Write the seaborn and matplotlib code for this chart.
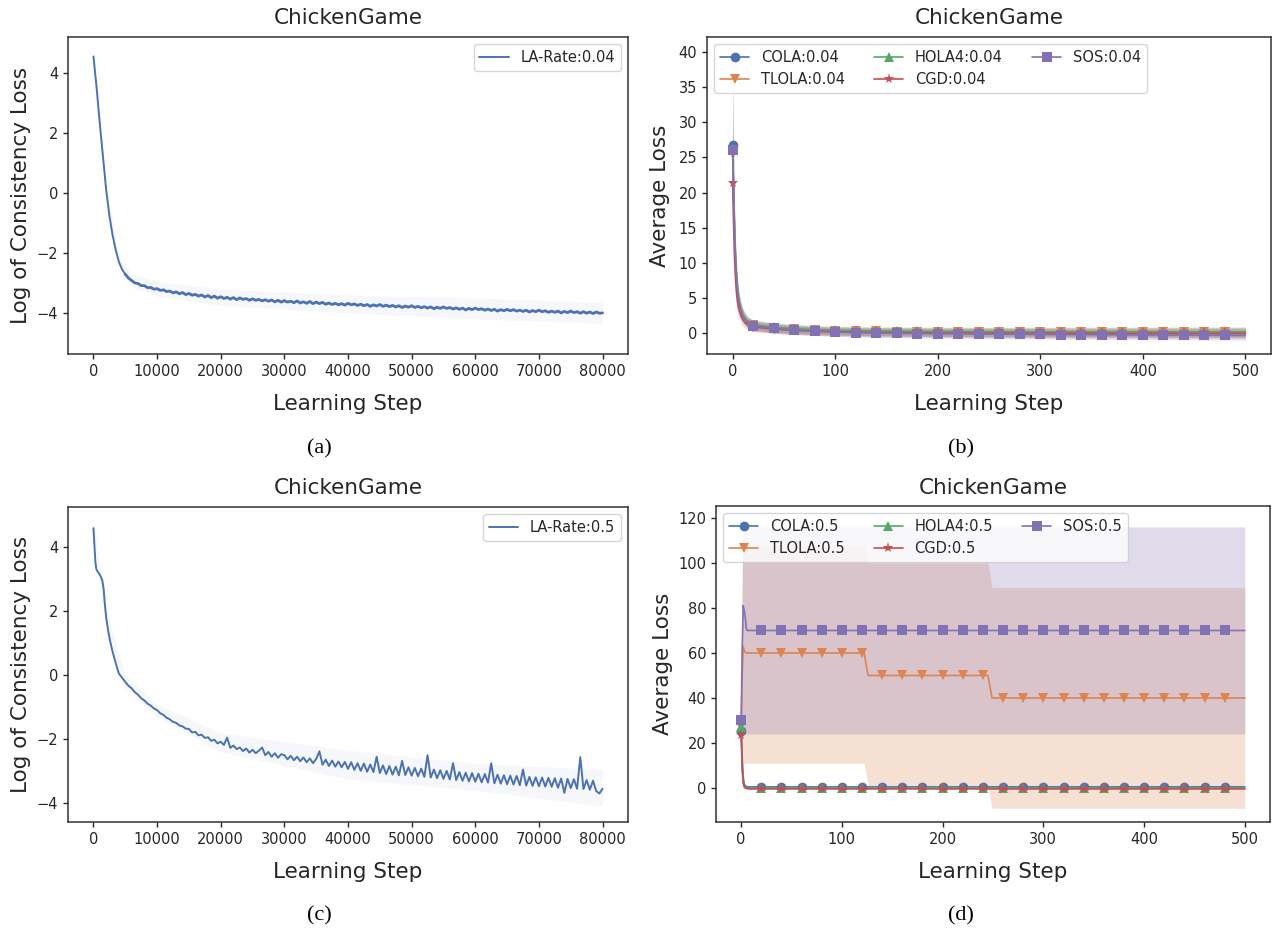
import matplotlib
matplotlib.use("Agg")
import matplotlib.pyplot as plt
import seaborn as sns

# ---------------- Panel (a): LA-Rate 0.04 ----------------
a_steps = [0, 500, 1000, 1500, 2000, 2500, 3000, 3500, 4000, 4500] + list(range(5000, 80001, 500))
a_vals = [4.55, 3.50, 2.30, 1.20, 0.10, -0.75, -1.40, -1.90, -2.30, -2.55,
          -2.71, -2.84, -2.92, -3.00, -3.02, -3.09, -3.09, -3.16, -3.15, -3.21,
          -3.19, -3.25, -3.23, -3.29, -3.27, -3.33, -3.30, -3.36, -3.32, -3.39,
          -3.35, -3.41, -3.38, -3.44, -3.40, -3.47, -3.42, -3.49, -3.44, -3.51,
          -3.46, -3.52, -3.48, -3.54, -3.49, -3.56, -3.50, -3.55, -3.52, -3.58,
          -3.53, -3.58, -3.55, -3.60, -3.56, -3.61, -3.57, -3.63, -3.58, -3.64,
          -3.59, -3.64, -3.61, -3.66, -3.60, -3.67, -3.63, -3.68, -3.62, -3.69,
          -3.64, -3.69, -3.65, -3.71, -3.67, -3.72, -3.68, -3.73, -3.69, -3.74,
          -3.68, -3.73, -3.70, -3.75, -3.71, -3.76, -3.72, -3.78, -3.73, -3.77,
          -3.72, -3.78, -3.74, -3.79, -3.75, -3.80, -3.76, -3.82, -3.77, -3.81,
          -3.76, -3.82, -3.78, -3.83, -3.79, -3.84, -3.80, -3.86, -3.81, -3.85,
          -3.80, -3.85, -3.82, -3.87, -3.83, -3.88, -3.84, -3.90, -3.85, -3.89,
          -3.84, -3.89, -3.86, -3.91, -3.87, -3.92, -3.88, -3.94, -3.89, -3.93,
          -3.88, -3.93, -3.89, -3.94, -3.91, -3.95, -3.91, -3.97, -3.92, -3.96,
          -3.91, -3.96, -3.93, -3.98, -3.94, -3.98, -3.94, -4.00, -3.95, -3.99,
          -3.94, -3.99, -3.96, -4.01, -3.96, -4.01, -3.97, -4.02, -3.97, -4.01,
          -4.00]
a_band_steps = [0, 2000, 4000, 6000, 10000, 20000, 40000, 60000, 80000]
a_band_lo = [4.40, -0.05, -2.45, -3.15, -3.45, -3.75, -4.00, -4.20, -4.35]
a_band_hi = [4.72, 0.25, -2.15, -2.70, -2.95, -3.20, -3.40, -3.50, -3.65]

# ---------------- Panel (c): LA-Rate 0.5 ----------------
c_steps = [0, 150, 300, 450, 600, 800, 1000, 1200, 1400, 1600, 1800, 2000, 2300,
           2600, 3000, 3500, 4000, 4500] + list(range(5000, 80001, 500))
c_vals = [4.60, 4.05, 3.55, 3.32, 3.26, 3.20, 3.14, 3.06, 2.95, 2.70, 2.20, 1.80, 1.40,
          1.08, 0.74, 0.38, 0.05, -0.08,
          -0.21, -0.33, -0.41, -0.53, -0.61, -0.72, -0.79, -0.89, -0.95, -1.04,
          -1.09, -1.19, -1.24, -1.33, -1.38, -1.46, -1.49, -1.57, -1.60, -1.67,
          -1.68, -1.79, -1.77, -1.88, -1.86, -1.96, -1.94, -2.05, -2.02, -2.13,
          -2.08, -2.18, -1.95, -2.27, -2.20, -2.31, -2.26, -2.37, -2.29, -2.42,
          -2.33, -2.44, -2.36, -2.26, -2.50, -2.40, -2.55, -2.44, -2.58, -2.47,
          -2.50, -2.63, -2.52, -2.66, -2.55, -2.69, -2.57, -2.72, -2.60, -2.75,
          -2.62, -2.38, -2.80, -2.64, -2.84, -2.67, -2.86, -2.70, -2.88, -2.71,
          -2.93, -2.72, -2.96, -2.75, -2.99, -2.76, -3.02, -2.79, -3.03, -2.55,
          -3.06, -2.82, -3.09, -2.84, -3.11, -2.86, -3.13, -2.68, -3.12, -2.88,
          -3.14, -2.90, -3.16, -2.92, -3.18, -2.50, -3.20, -2.95, -3.22, -2.97,
          -3.24, -2.99, -3.26, -2.75, -3.28, -3.03, -3.30, -3.05, -3.32, -3.06,
          -3.33, -3.08, -3.35, -3.09, -3.36, -2.75, -3.38, -3.11, -3.39, -3.13,
          -3.41, -3.14, -3.42, -3.15, -3.44, -2.95, -3.45, -3.18, -3.46, -3.19,
          -3.47, -3.20, -3.48, -3.21, -3.49, -3.22, -3.52, -3.23, -3.68, -3.24,
          -3.53, -3.25, -3.55, -2.56, -3.56, -3.28, -3.58, -3.30, -3.62, -3.70,
          -3.55]
c_band_steps = [0, 2000, 5000, 10000, 20000, 40000, 60000, 80000]
c_band_lo = [4.40, 1.55, -0.40, -1.30, -2.40, -3.25, -3.60, -4.10]
c_band_hi = [4.81, 2.05, 0.00, -0.90, -1.80, -2.35, -2.75, -2.95]

# ---------------- Panel (b): methods, rate 0.04 ----------------
methods = ["COLA", "TLOLA", "HOLA4", "CGD", "SOS"]
b_steps = [0, 1, 2, 3, 4, 5, 6, 8, 10, 12, 15] + list(range(20, 501, 20))
b_cola = [26.7, 19.5, 13.5, 9.8, 7.4, 5.8, 4.6, 3.3, 2.5, 2.0, 1.5,
          1.10, 0.75, 0.55, 0.40, 0.32, 0.26, 0.22, 0.19, 0.17, 0.15, 0.14, 0.13, 0.12,
          0.11, 0.10, 0.10, 0.09, 0.09, 0.08, 0.08, 0.08, 0.07, 0.07, 0.07, 0.07]
b_tlola = [25.5, 19.0, 13.2, 9.6, 7.3, 5.7, 4.6, 3.3, 2.5, 2.0, 1.55,
           1.15, 0.80, 0.60, 0.45, 0.37, 0.31, 0.27, 0.24, 0.22, 0.20, 0.19, 0.18, 0.18,
           0.17, 0.17, 0.16, 0.16, 0.16, 0.15, 0.15, 0.15, 0.15, 0.15, 0.15, 0.15]
b_hola4 = [26.2, 19.8, 14.0, 10.2, 7.8, 6.1, 4.9, 3.5, 2.7, 2.15, 1.6,
           1.20, 0.85, 0.65, 0.50, 0.42, 0.36, 0.32, 0.29, 0.27, 0.26, 0.25, 0.24, 0.24,
           0.23, 0.23, 0.23, 0.22, 0.22, 0.22, 0.22, 0.22, 0.22, 0.22, 0.22, 0.22]
b_cgd = [21.3, 15.0, 10.2, 7.2, 5.4, 4.2, 3.4, 2.5, 1.9, 1.55, 1.2,
         0.90, 0.60, 0.42, 0.30, 0.22, 0.16, 0.12, 0.09, 0.07, 0.05, 0.04, 0.03, 0.02,
         0.02, 0.01, 0.01, 0.00, 0.00, 0.00, 0.00, -0.01, -0.01, -0.01, -0.01, -0.01]
b_sos = [26.1, 19.3, 13.4, 9.7, 7.3, 5.7, 4.6, 3.3, 2.5, 2.0, 1.5,
         1.05, 0.70, 0.45, 0.28, 0.18, 0.10, 0.04, 0.00, -0.03, -0.06, -0.08, -0.10, -0.12,
         -0.14, -0.16, -0.18, -0.19, -0.20, -0.22, -0.23, -0.24, -0.25, -0.26, -0.27, -0.28]
b_half = [8.0, 5.5, 3.5, 2.4, 1.8, 1.4, 1.2, 1.0, 0.9, 0.8, 0.75,
          0.70, 0.65, 0.62, 0.60, 0.60, 0.60, 0.61, 0.61, 0.62, 0.62, 0.63, 0.63, 0.64,
          0.64, 0.65, 0.65, 0.66, 0.66, 0.67, 0.67, 0.68, 0.68, 0.69, 0.69, 0.70]
b_sos_half = [14.0, 8.0, 4.5, 2.8, 2.0, 1.6, 1.3, 1.1, 0.95, 0.85, 0.78,
              0.70, 0.65, 0.62, 0.60, 0.60, 0.60, 0.61, 0.61, 0.62, 0.62, 0.63, 0.63, 0.64,
              0.64, 0.65, 0.65, 0.66, 0.66, 0.67, 0.67, 0.68, 0.68, 0.69, 0.69, 0.70]

# ---------------- Panel (d): methods, rate 0.5 ----------------
d_steps = [0, 1, 2, 3, 4, 5, 6, 8, 10,
           20, 40, 60, 80, 100, 120, 122, 126,
           140, 160, 180, 200, 220, 240, 245, 249,
           260, 280, 300, 320, 340, 360, 380, 400, 420, 440, 460, 480, 500]
d_cola = [25.5, 14.0, 5.0, 2.0, 1.0, 0.7, 0.6, 0.5, 0.5,
          0.5, 0.5, 0.5, 0.5, 0.5, 0.5, 0.5, 0.5,
          0.5, 0.5, 0.5, 0.5, 0.5, 0.5, 0.5, 0.5,
          0.5, 0.5, 0.5, 0.5, 0.5, 0.5, 0.5, 0.5, 0.5, 0.5, 0.5, 0.5, 0.5]
d_tlola = [27.0, 50.0, 63.0, 61.0, 60.3, 60.0, 60.0, 60.0, 60.0,
           60.0, 60.0, 60.0, 60.0, 60.0, 60.0, 60.0, 50.0,
           50.0, 50.0, 50.0, 50.0, 50.0, 50.0, 50.0, 40.0,
           40.0, 40.0, 40.0, 40.0, 40.0, 40.0, 40.0, 40.0, 40.0, 40.0, 40.0, 40.0, 40.0]
d_hola4 = [27.0, 10.0, 3.0, 1.0, 0.5, 0.3, 0.2, 0.1, 0.1,
           0.0, 0.0, 0.0, 0.0, 0.0, 0.0, 0.0, 0.0,
           0.0, 0.0, 0.0, 0.0, 0.0, 0.0, 0.0, 0.0,
           0.0, 0.0, 0.0, 0.0, 0.0, 0.0, 0.0, 0.0, 0.0, 0.0, 0.0, 0.0, 0.0]
d_cgd = [23.5, 8.0, 2.0, 0.5, 0.0, -0.2, -0.3, -0.4, -0.4,
         -0.4, -0.4, -0.4, -0.4, -0.4, -0.4, -0.4, -0.4,
         -0.4, -0.4, -0.4, -0.4, -0.4, -0.4, -0.4, -0.4,
         -0.4, -0.4, -0.4, -0.4, -0.4, -0.4, -0.4, -0.4, -0.4, -0.4, -0.4, -0.4, -0.4]
d_sos = [30.0, 62.0, 81.0, 79.0, 76.0, 71.0, 70.0, 70.0, 70.0,
         70.0, 70.0, 70.0, 70.0, 70.0, 70.0, 70.0, 70.0,
         70.0, 70.0, 70.0, 70.0, 70.0, 70.0, 70.0, 70.0,
         70.0, 70.0, 70.0, 70.0, 70.0, 70.0, 70.0, 70.0, 70.0, 70.0, 70.0, 70.0, 70.0]
d_tlola_lo = [27.0, 18.0, 11.0, 11.0, 11.0, 11.0, 11.0, 11.0, 11.0,
              11.0, 11.0, 11.0, 11.0, 11.0, 11.0, 11.0, 1.0,
              1.0, 1.0, 1.0, 1.0, 1.0, 1.0, 1.0, -9.0,
              -9.0, -9.0, -9.0, -9.0, -9.0, -9.0, -9.0, -9.0, -9.0, -9.0, -9.0, -9.0, -9.0]
d_tlola_hi = [27.0, 90.0, 108.0, 108.0, 108.0, 108.0, 108.0, 108.0, 108.0,
              108.0, 108.0, 108.0, 108.0, 108.0, 108.0, 108.0, 100.0,
              100.0, 100.0, 100.0, 100.0, 100.0, 100.0, 100.0, 89.0,
              89.0, 89.0, 89.0, 89.0, 89.0, 89.0, 89.0, 89.0, 89.0, 89.0, 89.0, 89.0, 89.0]
d_sos_lo = [30.0, 26.0, 24.0, 24.0, 24.0, 24.0, 24.0, 24.0, 24.0,
            24.0, 24.0, 24.0, 24.0, 24.0, 24.0, 24.0, 24.0,
            24.0, 24.0, 24.0, 24.0, 24.0, 24.0, 24.0, 24.0,
            24.0, 24.0, 24.0, 24.0, 24.0, 24.0, 24.0, 24.0, 24.0, 24.0, 24.0, 24.0, 24.0]
d_sos_hi = [30.0, 98.0, 116.0, 116.0, 116.0, 116.0, 116.0, 116.0, 116.0,
            116.0, 116.0, 116.0, 116.0, 116.0, 116.0, 116.0, 116.0,
            116.0, 116.0, 116.0, 116.0, 116.0, 116.0, 116.0, 116.0,
            116.0, 116.0, 116.0, 116.0, 116.0, 116.0, 116.0, 116.0, 116.0, 116.0, 116.0, 116.0, 116.0]

title_text = "ChickenGame"
xlabel_text = "Learning Step"
captions = ["(a)", "(b)", "(c)", "(d)"]

# ---------------- Style ----------------
sns.set_theme(style="ticks")
pal = sns.color_palette("deep")
plt.rcParams.update({
    "font.family": ["DejaVu Sans"],
    "axes.edgecolor": ".2",
    "axes.linewidth": 1.1,
    "xtick.major.size": 3.5,
    "ytick.major.size": 3.5,
    "xtick.major.width": 1.0,
    "ytick.major.width": 1.0,
    "xtick.labelsize": 10.5,
    "ytick.labelsize": 10.5,
    "text.color": ".15",
    "axes.labelcolor": ".15",
    "xtick.color": ".15",
    "ytick.color": ".15",
})

W, H = 1274, 934
fig = plt.figure(figsize=(W / 100, H / 100), dpi=100)


def px_axes(left, top, right, bottom):
    return fig.add_axes([left / W, 1 - bottom / H, (right - left) / W, (bottom - top) / H])


ax_a = px_axes(68, 37, 628, 354)
ax_b = px_axes(707, 37, 1271, 354)
ax_c = px_axes(68, 507, 628, 822)
ax_d = px_axes(716, 506, 1270, 822)

LBL = 15.5
TTL = 15.5
LEG = 10.5

# ----- (a) -----
ax_a.fill_between(a_band_steps, a_band_lo, a_band_hi, color=pal[0], alpha=0.05, lw=0)
sns.lineplot(x=a_steps[:11], y=a_vals[:11], ax=ax_a, color=pal[0], lw=1.4,
             estimator=None, sort=False, label="LA-Rate:0.04")
sns.lineplot(x=a_steps[10:], y=a_vals[10:], ax=ax_a, color=pal[0], lw=2.0,
             estimator=None, sort=False)
ax_a.set_ylim(-5.37, 5.2)
ax_a.set_xlim(-4000, 84000)
ax_a.set_ylabel("Log of Consistency Loss", fontsize=LBL, labelpad=4)

# ----- (c) -----
ax_c.fill_between(c_band_steps, c_band_lo, c_band_hi, color=pal[0], alpha=0.05, lw=0)
sns.lineplot(x=c_steps, y=c_vals, ax=ax_c, color=pal[0], lw=1.4,
             estimator=None, sort=False, label="LA-Rate:0.5")
ax_c.set_ylim(-4.59, 5.26)
ax_c.set_xlim(-4000, 84000)
ax_c.set_ylabel("Log of Consistency Loss", fontsize=LBL, labelpad=4)

for ax in (ax_a, ax_c):
    ax.set_xticks(list(range(0, 80001, 10000)))
    ax.set_yticks([-4, -2, 0, 2, 4])
    ax.set_yticklabels(["\u22124", "\u22122", "0", "2", "4"])
    h, l = ax.get_legend_handles_labels()
    ax.legend(h[:1], l[:1], loc="upper right", fontsize=LEG)
    ax.get_legend().legend_handles[0].set_linewidth(1.4)

markers = ["o", "v", "^", "*", "s"]
msizes = [7, 7, 7, 8, 7]

# ----- (b) -----
b_series = [b_cola, b_tlola, b_hola4, b_cgd, b_sos]
b_halfs = [b_half, b_half, b_half, b_half, b_sos_half]
b_mark = [i for i, s in enumerate(b_steps) if s % 20 == 0 and s <= 480]
for k, name in enumerate(methods):
    vals = b_series[k]
    lo = [v - h for v, h in zip(vals, b_halfs[k])]
    hi = [v + h for v, h in zip(vals, b_halfs[k])]
    ax_b.fill_between(b_steps, lo, hi, color=pal[k], alpha=0.2, lw=0)
for k, name in enumerate(methods):
    sns.lineplot(x=b_steps, y=b_series[k], ax=ax_b, color=pal[k], lw=1.2,
                 marker=markers[k], markevery=b_mark, markersize=msizes[k],
                 markeredgecolor=pal[k], markeredgewidth=0,
                 estimator=None, sort=False, label=f"{name}:0.04")
ax_b.set_xlim(-25, 525)
ax_b.set_ylim(-2.94, 42.1)
ax_b.set_yticks([0, 5, 10, 15, 20, 25, 30, 35, 40])
ax_b.set_ylabel("Average Loss", fontsize=LBL, labelpad=6)
ax_b.legend(loc="upper left", ncol=3, fontsize=LEG)

# ----- (d) -----
d_series = [d_cola, d_tlola, d_hola4, d_cgd, d_sos]
d_mark = [i for i, s in enumerate(d_steps) if s % 20 == 0 and s <= 480]
ax_d.fill_between(d_steps, d_tlola_lo, d_tlola_hi, color=pal[1], alpha=0.25, lw=0)
ax_d.fill_between(d_steps, d_sos_lo, d_sos_hi, color=pal[4], alpha=0.25, lw=0)
for k, name in enumerate(methods):
    sns.lineplot(x=d_steps, y=d_series[k], ax=ax_d, color=pal[k], lw=1.2,
                 marker=markers[k], markevery=d_mark, markersize=msizes[k],
                 markeredgecolor=pal[k], markeredgewidth=0,
                 estimator=None, sort=False, label=f"{name}:0.5")
ax_d.set_xlim(-25, 525)
ax_d.set_ylim(-15.1, 125.3)
ax_d.set_yticks([0, 20, 40, 60, 80, 100, 120])
ax_d.set_ylabel("Average Loss", fontsize=LBL, labelpad=4)
ax_d.legend(loc="upper left", ncol=3, fontsize=LEG)

for ax in (ax_b, ax_d):
    ax.set_xticks([0, 100, 200, 300, 400, 500])

for ax in (ax_a, ax_b, ax_c, ax_d):
    ax.set_title(title_text, fontsize=TTL, pad=9)
    ax.set_xlabel(xlabel_text, fontsize=LBL, labelpad=11)
    for sp in ax.spines.values():
        sp.set_visible(True)

cap_pos = [(319, 449), (961, 449), (319, 916), (961, 916)]
for (cx, cy), cap in zip(cap_pos, captions):
    fig.text(cx / W, 1 - cy / H, cap, ha="center", va="center",
             fontsize=16, family=["Liberation Serif", "DejaVu Serif"], color="black")

fig.savefig("out.png", dpi=100)
